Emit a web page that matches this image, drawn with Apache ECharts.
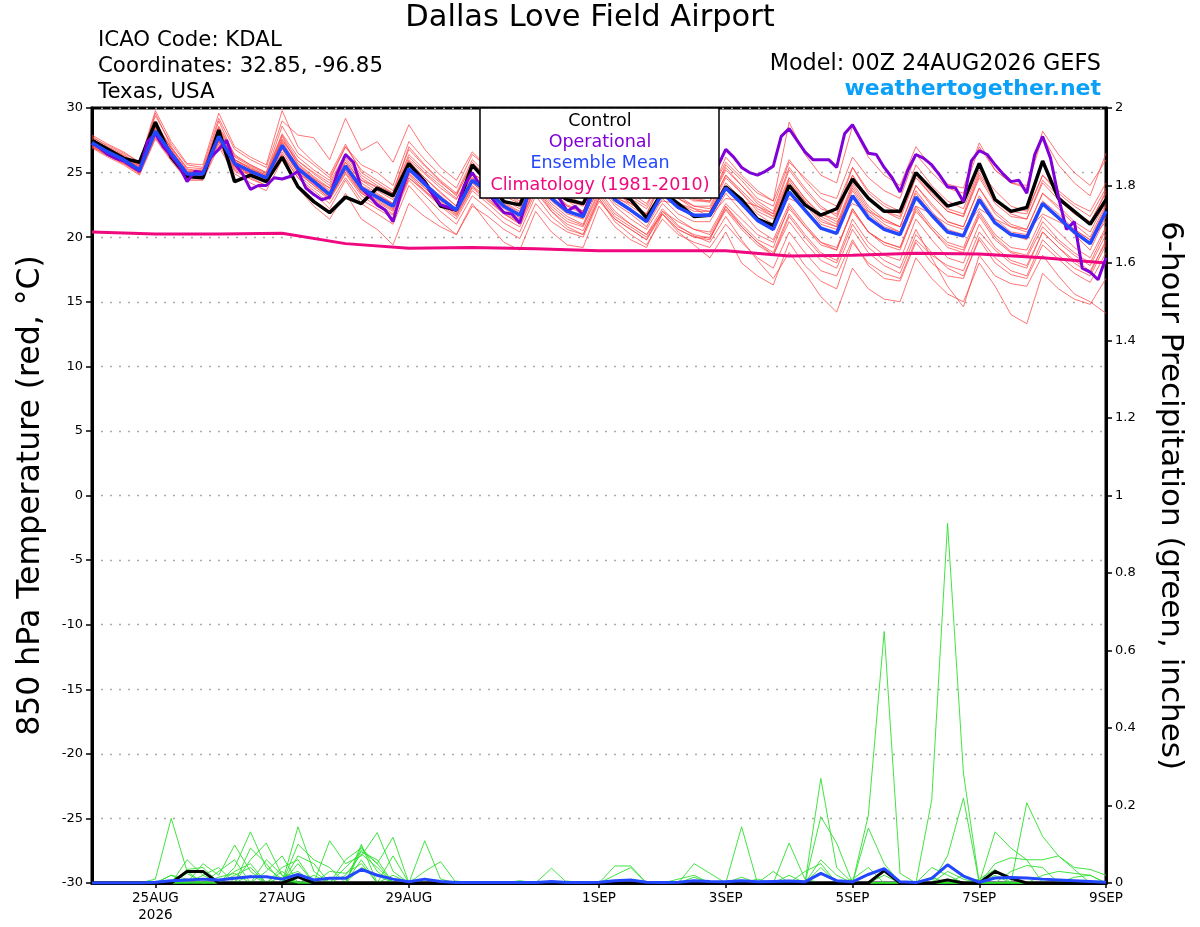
<!DOCTYPE html>
<html>
<head>
<meta charset="utf-8">
<title>Dallas Love Field Airport</title>
<script src="https://cdn.jsdelivr.net/npm/echarts@6.0.0/dist/echarts.min.js"></script>
<style>
    html, body { margin: 0; padding: 0; background: #fff; }
    #chart { width: 1200px; height: 927px; }
</style>
</head>
<body>
<div id="chart"></div>
<script>
// x axis: hours from 00Z 24AUG2026, one category every 3 h (0..384)
var labelHours = [24, 72, 120, 192, 240, 288, 336, 384];
var labelNames = ['25AUG\n2026', '27AUG', '29AUG', '1SEP', '3SEP', '5SEP', '7SEP', '9SEP'];

// 850 hPa temperature, 6-hourly (65 values)
var controlTemp = [27.5,26.8,26.1,25.8, 28.9,26.2,24.7,24.6, 28.3,24.3,24.8,24.3, 26.2,23.9,22.75,21.9,
    23.1,22.6,23.8,23.2, 25.7,24.3,22.4,22.1, 25.6,24.2,22.75,22.5, 25.2,23.6,22.9,22.6,
    25.0,23.5,22.9,21.5, 23.5,22.6,21.6,21.7, 23.9,22.9,21.4,20.9, 24.0,22.5,21.7,22.2,
    24.5,23.0,22.0,22.0, 25.0,23.7,22.4,22.75, 25.7,22.9,22.0,22.3, 25.9,23.0,22.0,21.0, 22.9];
var meanTemp = [27.3,26.6,26.0,25.2, 28.2,26.5,24.9,24.9, 27.8,25.7,25.1,24.6, 27.1,25.3,24.3,23.3,
    25.5,23.8,23.1,22.4, 25.3,24.1,23.0,22.1, 24.4,23.5,22.4,21.7, 24.6,23.0,22.0,21.6,
    24.5,22.9,22.1,21.2, 23.4,22.3,21.7,21.7, 23.8,22.6,21.3,20.6, 23.5,22.1,20.7,20.3,
    23.2,21.5,20.6,20.2, 23.1,21.7,20.4,20.1, 22.9,21.1,20.2,20.0, 22.6,21.5,20.4,19.5, 22.0];
// operational run, 3-hourly (129 values)
var operTemp = [27.3,26.9,26.4,26.1,25.9,25.5,25.1,27.4, 28.0,27.0,26.3,25.5,24.3,25.1,25.0,26.2,
    26.8,27.5,25.7,24.9,23.7,24.0,24.0,24.6, 24.5,24.7,25.1,23.8,23.3,22.9,23.1,25.0,
    26.4,25.8,23.8,23.2,22.5,22.1,21.2,23.4, 25.2,24.8,24.2,23.3,22.5,22.3,22.1,24.0,
    25.0,24.0,23.4,22.6,21.9,21.8,21.1,23.2, 24.9,24.5,23.6,23.0,22.0,22.4,21.7,23.4,
    25.0,24.6,23.8,23.4,23.4,23.6,23.5,24.4, 25.2,24.8,24.3,24.0,24.2,24.6,24.9,25.5,
    26.8,26.2,25.4,25.0,24.8,25.1,25.5,27.8, 28.4,27.5,26.6,26.0,26.0,26.0,25.4,28.0,
    28.7,27.6,26.5,26.4,25.4,24.6,23.5,25.2, 26.4,26.1,25.6,24.8,23.9,23.8,22.75,25.9,
    26.7,26.4,25.6,24.9,24.3,24.4,23.4,26.4, 27.8,26.1,23.1,20.6,21.2,17.6,17.3,16.7, 18.4];
// climatology, daily at 00Z (17 values)
var climTemp = [20.4,20.25,20.25,20.3,19.5,19.15,19.2,19.1,18.95,18.95,18.95,18.55,18.6,18.75,18.7,18.4,18.0];

// ensemble members, 6-hourly
var m01 = [27.8,27.0,26.4,25.6,29.6,27.0,25.3,25.0,29.0,26.3,25.6,25.0,28.6,26.5,25.6,24.6,27.0,25.2,24.4,23.6,26.8,25.5,24.3,23.2,25.8,24.6,23.5,22.8,26.0,24.2,23.2,22.6,25.6,24.0,23.2,22.4,24.8,23.6,22.9,22.7,25.2,24.0,22.8,22.0,25.4,23.8,22.4,21.6,24.8,23.0,22.0,21.4,24.6,23.2,22.0,21.6,24.8,22.8,21.8,21.4,24.2,22.9,21.8,21.0,23.6];
var m02 = [27.0,26.3,25.7,25.0,27.8,26.1,24.6,24.6,27.4,25.3,24.8,24.3,26.6,24.8,23.8,22.9,24.9,23.2,22.4,21.7,24.6,23.5,22.4,21.4,23.6,22.6,21.5,20.8,23.5,22.0,21.0,20.5,23.2,21.6,20.8,20.0,22.0,20.8,20.2,19.9,22.1,20.6,19.4,18.6,21.2,19.6,18.2,17.6,20.6,18.8,17.8,17.2,20.2,18.8,17.6,17.0,19.8,18.0,17.1,16.8,19.4,18.3,17.2,16.5,18.8];
var m03 = [27.5,26.8,26.1,25.4,28.5,26.7,25.1,25.2,28.1,26.0,25.4,24.8,27.5,25.9,25.0,24.2,26.5,24.8,24.0,23.4,26.4,25.2,24.2,23.3,25.6,24.8,23.8,23.2,25.8,24.5,23.6,23.0,26.0,24.6,23.8,23.0,25.2,24.2,23.5,23.4,25.8,24.6,23.4,22.8,28.9,26.4,24.8,24.2,28.6,26.2,24.8,24.0,27.0,25.4,24.1,23.8,27.3,25.2,24.2,23.8,27.8,25.6,24.2,23.2,26.5];
var m04 = [27.1,26.4,25.8,25.0,28.0,26.3,24.7,24.8,27.6,25.5,24.9,24.4,26.9,25.0,24.0,23.0,25.2,23.4,22.7,22.0,24.8,23.6,22.6,21.8,24.0,23.0,21.9,21.2,24.0,22.4,21.4,20.9,23.6,22.0,21.0,20.2,22.2,20.9,20.1,19.6,21.6,19.8,18.2,16.8,18.8,17.2,15.4,14.2,17.6,16.0,15.2,15.0,18.4,16.8,15.6,15.0,18.0,16.2,14.0,13.3,17.2,16.0,15.2,14.8,16.8];
var m05 = [27.6,26.9,26.3,25.5,29.0,26.8,25.0,24.8,28.4,26.0,25.3,24.7,27.8,25.6,24.6,23.6,26.0,24.2,23.4,22.6,25.8,24.6,23.5,22.4,25.0,24.0,22.9,22.2,25.2,23.6,22.5,22.0,25.0,23.4,22.6,21.8,24.2,23.0,22.2,22.0,24.6,23.4,22.0,21.4,24.2,22.8,21.2,20.8,23.8,22.0,21.0,20.4,23.6,22.0,20.6,20.2,23.2,21.4,20.4,20.2,22.8,21.8,20.6,19.8,22.4];
var m06 = [26.9,26.2,25.6,24.8,27.6,25.9,24.4,24.4,27.0,24.9,24.2,23.6,26.0,23.8,22.4,21.4,23.4,21.4,20.6,19.4,22.6,21.6,20.8,20.2,22.4,21.6,20.6,19.9,22.6,21.2,20.4,20.0,22.8,21.4,20.6,19.8,22.0,21.2,20.6,20.4,22.6,21.4,20.2,19.6,22.2,20.8,19.6,19.2,22.0,20.4,19.6,19.2,22.0,20.6,19.4,19.0,21.6,19.8,18.8,18.4,20.8,19.6,18.6,17.8,20.2];
var m07 = [27.7,27.1,26.5,25.8,29.4,27.2,25.6,25.4,29.2,26.8,26.0,25.4,29.0,27.9,27.7,26.0,29.2,26.7,27.4,25.8,28.7,26.8,25.4,24.4,26.6,25.4,24.4,23.8,27.0,25.2,24.0,23.4,26.4,24.8,24.0,23.0,25.0,23.8,23.0,22.8,25.4,24.0,22.6,21.8,24.6,23.0,21.6,21.0,24.2,22.4,21.4,20.8,24.0,22.6,21.2,20.8,23.8,22.0,21.0,20.6,23.4,22.2,21.0,20.0,22.6];
var m08 = [27.2,26.5,25.9,25.1,28.4,26.4,24.8,24.9,27.9,25.6,25.0,24.5,27.2,25.2,24.2,23.4,25.6,23.9,23.2,22.6,25.4,24.0,23.0,22.0,24.2,23.2,22.2,21.5,24.4,22.8,21.8,21.4,24.2,22.6,21.8,20.8,23.0,21.8,21.2,21.2,23.4,22.0,20.6,19.8,22.6,21.0,19.6,19.0,22.2,20.4,19.4,19.0,22.2,20.6,19.2,18.8,21.8,20.0,18.9,18.6,21.2,19.8,18.8,18.0,20.6];
var m09 = [27.4,26.7,26.2,25.3,28.1,26.6,25.0,25.1,27.7,25.8,25.2,24.7,27.0,25.4,24.5,23.8,25.8,24.4,23.9,23.2,26.2,25.0,24.0,23.0,24.8,24.4,23.6,22.6,24.0,23.8,22.8,22.0,23.4,23.0,22.6,21.8,22.8,22.6,22.2,21.6,23.0,22.8,22.4,21.6,23.0,22.4,21.8,21.2,22.6,22.0,21.4,20.8,22.4,21.8,21.0,20.6,22.2,21.4,20.8,20.4,21.8,21.2,20.6,19.8,21.2];
var m10 = [27.3,26.6,26.0,25.3,28.3,26.5,24.9,24.9,27.8,25.8,25.1,24.6,27.3,25.4,24.4,23.4,25.4,23.9,23.2,22.5,25.2,24.2,23.2,22.2,24.6,23.6,22.6,21.9,25.0,23.4,22.4,21.8,25.2,23.6,22.6,21.8,24.4,23.4,22.8,22.8,25.6,24.4,23.0,22.4,25.8,24.6,23.4,23.0,26.2,24.6,23.6,23.0,26.4,25.0,23.8,23.4,27.0,25.2,24.2,24.0,28.2,26.4,25.0,24.0,26.0];
var m11 = [27.0,26.4,25.8,25.0,27.9,26.2,24.6,24.7,27.5,25.4,24.8,24.3,26.8,25.0,24.0,23.0,25.0,23.4,22.6,21.8,24.6,23.6,22.5,21.6,23.8,22.8,21.8,21.0,23.8,22.0,20.8,20.2,23.0,21.2,20.2,19.4,21.4,20.2,19.6,19.2,21.0,19.6,18.4,17.6,20.4,18.8,17.4,17.0,19.8,17.8,16.8,16.6,19.6,18.0,17.0,16.8,20.0,18.4,17.4,17.0,19.8,18.6,17.6,17.0,19.4];
var m12 = [27.5,26.8,26.2,25.4,28.6,26.7,25.1,25.0,28.2,26.0,25.3,24.8,27.6,25.7,24.7,23.8,26.2,24.4,23.6,22.9,25.9,24.6,23.4,22.4,24.8,23.8,22.7,22.0,25.2,23.4,22.4,22.0,24.8,23.2,22.4,21.6,23.6,22.6,22.0,22.0,24.2,23.0,21.8,21.0,24.0,22.6,21.0,20.6,23.6,21.8,20.8,20.4,23.4,21.8,20.4,20.0,23.0,21.2,20.2,19.8,22.6,21.4,20.2,19.0,21.6];
var m13 = [27.1,26.5,25.9,25.1,28.0,26.2,24.7,24.6,27.4,25.2,24.6,24.0,26.4,24.6,23.4,22.2,24.4,22.6,21.8,21.0,24.0,22.6,21.2,20.2,22.6,21.0,19.6,19.0,22.0,20.4,19.4,19.2,22.4,20.8,19.8,19.2,21.8,20.6,20.0,19.8,22.4,21.0,19.8,19.2,22.4,20.8,19.4,19.0,22.2,20.4,19.6,19.2,22.4,20.8,19.6,19.2,22.0,20.2,19.2,19.0,21.6,20.4,19.2,18.4,20.8];
var m14 = [27.9,27.2,26.6,25.8,29.8,27.4,25.7,25.6,29.6,27.0,26.2,25.6,29.8,27.0,25.8,24.8,27.2,25.0,24.2,23.4,27.0,25.6,24.4,23.4,26.0,24.8,23.8,23.2,26.6,24.8,23.6,23.0,26.2,24.4,23.4,22.6,24.6,23.2,22.4,22.2,24.8,23.4,22.2,21.6,24.4,22.8,21.4,20.8,24.0,22.2,21.2,20.8,24.0,22.4,21.2,20.8,23.8,21.8,20.8,20.6,23.4,22.4,21.2,20.4,22.8];
var m15 = [27.2,26.5,25.9,25.2,28.2,26.4,24.8,24.8,27.8,25.6,25.0,24.5,27.0,25.2,24.2,23.2,25.4,23.6,22.9,22.2,25.0,23.8,22.8,21.9,24.2,23.2,22.0,21.4,24.2,22.6,21.6,21.0,24.0,22.4,21.4,20.6,22.6,21.4,20.6,20.2,22.4,20.8,19.6,18.6,21.6,20.0,18.6,18.0,21.0,19.2,18.2,17.6,20.6,18.4,16.2,14.6,18.6,17.0,16.4,16.2,18.6,17.0,15.6,15.0,14.1];
var m16 = [27.4,26.7,26.1,25.3,28.5,26.6,25.0,24.9,28.0,25.9,25.2,24.7,27.4,25.5,24.5,23.5,25.8,24.0,23.3,22.6,25.5,24.3,23.1,22.2,24.6,23.6,22.5,21.8,24.9,23.2,22.1,21.6,24.6,22.9,22.1,21.3,23.4,22.3,21.7,21.8,24.0,22.8,21.5,20.8,24.6,23.0,21.8,21.4,24.8,23.0,22.0,21.6,24.8,23.2,22.0,21.6,24.6,22.6,21.6,21.4,24.4,23.2,22.0,21.2,23.4];
var m17 = [27.3,26.6,26.0,25.2,28.1,26.4,24.8,24.8,27.6,25.5,24.9,24.4,26.9,25.1,24.1,23.1,25.2,23.5,22.8,22.1,24.9,23.8,22.7,21.7,23.9,22.9,21.8,21.1,23.9,22.2,21.2,20.8,23.4,21.8,21.0,20.2,21.8,20.4,19.4,18.4,20.4,18.0,17.0,16.3,19.6,17.8,16.6,16.0,19.6,18.0,17.2,16.8,19.8,18.6,17.8,17.4,20.4,19.0,18.0,17.6,20.4,19.2,18.2,17.4,19.6];
var m18 = [27.6,26.9,26.2,25.5,28.8,26.9,25.2,25.2,28.6,26.4,25.6,25.0,28.0,26.2,25.2,24.4,27.0,25.6,25.0,24.0,27.4,26.0,24.8,23.8,26.4,25.4,24.2,23.4,26.8,25.0,23.8,23.2,26.6,24.8,23.8,23.0,25.6,24.4,23.6,23.2,26.2,24.8,23.6,22.8,26.0,24.4,23.0,22.4,25.4,23.6,22.6,22.0,25.6,24.0,22.8,22.2,25.2,23.6,22.4,22.0,24.8,23.6,22.6,22.0,24.2];
var m19 = [27.0,26.3,25.7,24.9,27.7,26.0,24.5,24.5,27.2,25.1,24.5,24.0,26.4,24.6,23.6,22.6,24.6,22.9,22.2,21.5,24.4,23.2,22.0,21.0,23.2,22.2,21.1,20.4,23.2,21.6,20.6,20.2,23.0,21.4,20.6,19.8,21.8,20.6,20.0,20.0,22.2,20.8,19.6,18.8,21.8,20.2,18.8,18.2,21.4,19.6,18.6,18.2,21.4,19.8,18.4,18.0,21.0,19.2,18.2,17.8,20.4,19.2,18.0,17.2,19.8];
var m20 = [27.5,26.9,26.3,25.6,28.7,26.9,25.4,25.3,28.5,26.2,25.5,24.9,27.9,25.9,24.9,24.0,26.4,24.6,23.8,23.2,26.0,24.9,23.8,22.9,25.4,24.2,23.2,22.6,25.6,23.9,22.8,22.4,25.4,23.8,23.0,22.2,24.2,23.0,22.4,22.4,24.8,23.6,22.4,21.8,25.2,23.6,22.2,21.8,25.4,23.4,22.4,21.8,25.0,23.4,22.2,21.8,25.0,23.0,22.0,21.8,24.8,23.4,22.4,21.6,23.8];
var members = [m01,m02,m03,m04,m05,m06,m07,m08,m09,m10,m11,m12,m13,m14,m15,m16,m17,m18,m19,m20];

// 6-hour precipitation (inches), 6-hourly; members as [step, value], other steps are 0
var precipMean = [0,0,0,0, 0.002,0.006,0.008,0.01, 0.008,0.012,0.016,0.016, 0.01,0.022,0.008,0.012,
    0.012,0.035,0.02,0.01, 0.003,0.01,0.004,0.001, 0.001,0.001,0.001,0.001, 0.001,0.004,0.001,0.001,
    0.002,0.006,0.008,0.002, 0.001,0.002,0.006,0.004, 0.003,0.006,0.003,0.004, 0.005,0.003,0.025,0.006,
    0.003,0.022,0.037,0.003, 0.001,0.012,0.047,0.018, 0.002,0.013,0.014,0.013, 0.01,0.008,0.006,0.004, 0.002];
var precipControl = [[6,0.03],[7,0.03],[13,0.016],[50,0.032],[54,0.008],[57,0.03],[58,0.012]];
var p01 = [[4,0.01],[5,0.167],[6,0.03],[29,0.038],[53,0.214],[54,0.928],[55,0.284]];
var p02 = [[6,0.06],[7,0.02],[9,0.04],[10,0.132],[11,0.04],[12,0.01],[17,0.094],[18,0.03],[49,0.175],[50,0.649],[51,0.025]];
var p03 = [[7,0.05],[8,0.02],[9,0.098],[10,0.03],[13,0.145],[14,0.03],[21,0.109],[22,0.01],[46,0.27],[47,0.04]];
var p04 = [[10,0.06],[11,0.103],[12,0.02],[15,0.109],[16,0.05],[17,0.07],[18,0.13],[19,0.03],[33,0.044],[34,0.044],[46,0.171],[47,0.103]];
var p05 = [[13,0.07],[14,0.05],[16,0.06],[17,0.09],[18,0.05],[19,0.118],[38,0.05],[39,0.025],[59,0.207],[60,0.12],[61,0.07],[62,0.035]];
var p06 = [[5,0.02],[6,0.01],[8,0.03],[9,0.06],[12,0.04],[13,0.06],[17,0.1],[19,0.07],[21,0.03],[22,0.055],[41,0.145],[54,0.07],[55,0.219]];
var p07 = [[6,0.035],[7,0.04],[10,0.09],[11,0.05],[13,0.1],[14,0.06],[15,0.04],[17,0.085],[18,0.05],[44,0.103],[45,0.01],[57,0.132],[58,0.09],[59,0.06]];
var p08 = [[5,0.02],[9,0.03],[10,0.05],[12,0.03],[16,0.04],[17,0.08],[18,0.06],[33,0.02],[34,0.04],[49,0.142],[50,0.05],[57,0.05],[58,0.065],[59,0.06],[60,0.06],[61,0.07],[62,0.04],[63,0.035],[64,0.02]];
var p09 = [[7,0.02],[8,0.04],[11,0.03],[12,0.07],[14,0.02],[17,0.06],[38,0.015],[41,0.015],[43,0.03],[46,0.06],[47,0.02],[53,0.04],[54,0.02],[56,0.01],[57,0.035]];
var p10 = [[6,0.025],[9,0.02],[10,0.04],[13,0.05],[16,0.02],[17,0.075],[18,0.04],[37,0.01],[38,0.02],[46,0.04],[50,0.03],[53,0.015],[60,0.02],[61,0.03],[62,0.025],[63,0.02]];
var p11 = [[8,0.015],[9,0.025],[11,0.06],[12,0.02],[15,0.03],[16,0.025],[17,0.05],[19,0.02],[27,0.006],[42,0.01],[44,0.02],[48,0.01],[49,0.04],[55,0.02],[58,0.03],[59,0.045],[60,0.04]];
var p12 = [[10,0.02],[12,0.015],[13,0.03],[17,0.04],[18,0.02],[23,0.005],[30,0.005],[45,0.03],[46,0.05],[50,0.02],[54,0.03],[55,0.01],[57,0.02],[62,0.015],[63,0.02]];
var precipMembers = [p01,p02,p03,p04,p05,p06,p07,p08,p09,p10,p11,p12];

// ---- build the 3-hourly category axis ----
var hours = [];
for (var h = 0; h <= 384; h += 3) hours.push(String(h));
var labelMap = {};
labelHours.forEach(function (hr, i) { labelMap[String(hr)] = labelNames[i]; });

function showTick(index) {
    return labelHours.indexOf(index * 3) >= 0;
}

// 6-hourly array -> 3-hourly slots (gaps joined by connectNulls)
function sixHourly(arr) {
    var out = hours.map(function () { return null; });
    arr.forEach(function (v, i) { out[i * 2] = v; });
    return out;
}
function sparseSix(pairs) {
    var arr = [];
    for (var i = 0; i < 65; i++) arr.push(0);
    pairs.forEach(function (p) { arr[p[0]] = p[1]; });
    return sixHourly(arr);
}
function daily(arr) {
    var out = hours.map(function () { return null; });
    arr.forEach(function (v, i) { out[i * 8] = v; });
    return out;
}

var series = [];
members.forEach(function (m, k) {
    series.push({
        name: 'member' + (k + 1), type: 'line', data: sixHourly(m), connectNulls: true,
        showSymbol: false, silent: true, z: 2,
        lineStyle: { color: '#ff4040', width: 0.85, opacity: 0.85 }
    });
});
precipMembers.forEach(function (p, k) {
    series.push({
        name: 'precip' + (k + 1), type: 'line', yAxisIndex: 1, data: sparseSix(p), connectNulls: true,
        showSymbol: false, silent: true, z: 2,
        lineStyle: { color: '#2ee02e', width: 0.9 }
    });
});
series.push({
    name: 'Climatology', type: 'line', data: daily(climTemp), connectNulls: true,
    showSymbol: false, z: 3, lineStyle: { color: '#f0087e', width: 3 }
});
series.push({
    name: 'Control precip', type: 'line', yAxisIndex: 1, data: sparseSix(precipControl), connectNulls: true,
    showSymbol: false, z: 4, lineStyle: { color: '#000', width: 3 }
});
series.push({
    name: 'Mean precip', type: 'line', yAxisIndex: 1, data: sixHourly(precipMean), connectNulls: true,
    showSymbol: false, z: 5, lineStyle: { color: '#2347ff', width: 3 }
});
series.push({
    name: 'Control', type: 'line', data: sixHourly(controlTemp), connectNulls: true,
    showSymbol: false, z: 4, lineStyle: { color: '#000', width: 3.5 }
});
series.push({
    name: 'Operational', type: 'line', data: operTemp,
    showSymbol: false, z: 5, lineStyle: { color: '#8000d8', width: 3 }
});
series.push({
    name: 'Ensemble Mean', type: 'line', data: sixHourly(meanTemp), connectNulls: true,
    showSymbol: false, z: 6, lineStyle: { color: '#2347ff', width: 3.5 }
});

var font = '"DejaVu Sans", Verdana, sans-serif';

var chart = echarts.init(document.getElementById('chart'));
var option = {
    animation: false,
    backgroundColor: '#fff',
    textStyle: { fontFamily: font },
    grid: { left: 92, right: 94, top: 108, bottom: 44, show: true, borderColor: '#000', borderWidth: 3 },
    xAxis: {
        type: 'category', data: hours, boundaryGap: false,
        axisLine: { show: true, onZero: false, lineStyle: { color: '#000', width: 3 } },
        axisTick: { show: true, interval: showTick, length: 5, lineStyle: { color: '#000', width: 1.5 } },
        axisLabel: {
            interval: showTick, color: '#000', fontSize: 13.5, lineHeight: 17, margin: 7, fontFamily: font,
            formatter: function (v) { return labelMap[v] || ''; }
        },
        splitLine: { show: false }
    },
    yAxis: [
        {
            type: 'value', position: 'left', min: -30, max: 30, interval: 5,
            axisLine: { show: true, lineStyle: { color: '#000', width: 3 } },
            axisTick: { show: true, length: 6, lineStyle: { color: '#000', width: 1.5 } },
            axisLabel: { color: '#000', fontSize: 13, margin: 9, fontFamily: font },
            splitLine: { show: true, lineStyle: { color: '#aaa', type: [2, 7], width: 1.3 } },
            name: '850 hPa Temperature (red, \u00B0C)', nameLocation: 'middle', nameGap: 45, nameRotate: 90,
            nameTextStyle: { color: '#000', fontSize: 31.5, fontFamily: font }
        },
        {
            type: 'value', position: 'right', min: 0, max: 2, interval: 0.2,
            axisLine: { show: true, lineStyle: { color: '#000', width: 3 } },
            axisTick: { show: true, length: 6, lineStyle: { color: '#000', width: 1.5 } },
            axisLabel: {
                color: '#000', fontSize: 13, margin: 9, fontFamily: font,
                formatter: function (v) { return String(+v.toFixed(1)); }
            },
            splitLine: { show: false },
            name: '6-hour Precipitation (green, inches)', nameLocation: 'middle', nameGap: 49, nameRotate: -90,
            nameTextStyle: { color: '#000', fontSize: 31, fontFamily: font }
        }
    ],
    graphic: [
        { type: 'text', x: 590, y: 18, z: 100, style: { text: 'Dallas Love Field Airport', font: '30.5px ' + font, fill: '#000', textAlign: 'center', textVerticalAlign: 'middle' } },
        { type: 'text', x: 98, y: 40, z: 100, style: { text: 'ICAO Code: KDAL', font: '21.3px ' + font, fill: '#000', textAlign: 'left', textVerticalAlign: 'middle' } },
        { type: 'text', x: 98, y: 66, z: 100, style: { text: 'Coordinates: 32.85, -96.85', font: '21.3px ' + font, fill: '#000', textAlign: 'left', textVerticalAlign: 'middle' } },
        { type: 'text', x: 98, y: 92, z: 100, style: { text: 'Texas, USA', font: '21.3px ' + font, fill: '#000', textAlign: 'left', textVerticalAlign: 'middle' } },
        { type: 'text', x: 1101, y: 64, z: 100, style: { text: 'Model: 00Z 24AUG2026 GEFS', font: '22.3px ' + font, fill: '#000', textAlign: 'right', textVerticalAlign: 'middle' } },
        { type: 'text', x: 1101, y: 89, z: 100, style: { text: 'weathertogether.net', font: 'bold 22px ' + font, fill: '#0aa0f8', textAlign: 'right', textVerticalAlign: 'middle' } },
        { type: 'rect', z: 100, shape: { x: 480, y: 108, width: 239, height: 90 }, style: { fill: '#fff', stroke: '#000', lineWidth: 1.5 } },
        { type: 'text', x: 600, y: 121, z: 101, style: { text: 'Control', font: '17.5px ' + font, fill: '#000', textAlign: 'center', textVerticalAlign: 'middle' } },
        { type: 'text', x: 600, y: 142, z: 101, style: { text: 'Operational', font: '17.5px ' + font, fill: '#8000d8', textAlign: 'center', textVerticalAlign: 'middle' } },
        { type: 'text', x: 600, y: 163, z: 101, style: { text: 'Ensemble Mean', font: '17.5px ' + font, fill: '#2347ff', textAlign: 'center', textVerticalAlign: 'middle' } },
        { type: 'text', x: 600, y: 185, z: 101, style: { text: 'Climatology (1981-2010)', font: '17.5px ' + font, fill: '#f0087e', textAlign: 'center', textVerticalAlign: 'middle' } }
    ],
    series: series
};
chart.setOption(option);
</script>
</body>
</html>
